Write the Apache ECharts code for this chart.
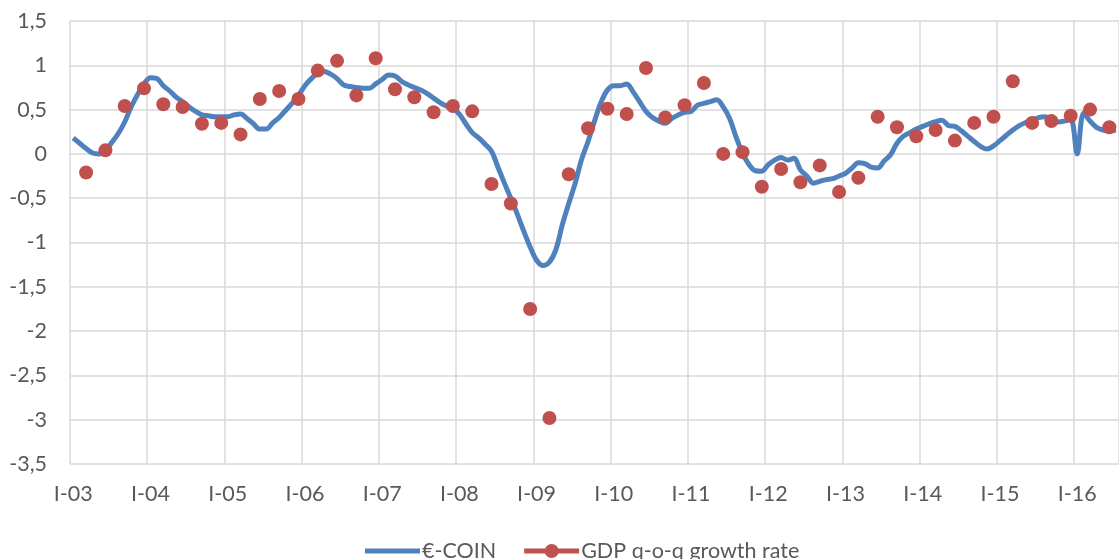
<!DOCTYPE html>
<html>
<head>
<meta charset="utf-8">
<script src="https://cdn.jsdelivr.net/npm/echarts@6/dist/echarts.min.js"></script>
<style>html,body{margin:0;padding:0;background:#fff}#c{width:1119px;height:559px}</style>
</head>
<body>
<div id="c"></div>
<script>
// Monthly categories Jan 2003 .. Jul 2016
const startYear = 2003;
const monthCount = 163;
const months = [];
for (let i = 0; i < monthCount; i++) {
  const y = startYear + Math.floor(i / 12), m = (i % 12) + 1;
  months.push(y + '-' + (m < 10 ? '0' + m : '' + m));
}

// €-COIN monthly values
const ecoin = [
  0.18, 0.12, 0.06, 0.01, 0.00, 0.04, 0.13, 0.23, 0.36, 0.53, 0.67, 0.79,   // 2003
  0.86, 0.85, 0.77, 0.71, 0.64, 0.59, 0.53, 0.48, 0.44, 0.43, 0.42, 0.42,   // 2004
  0.42, 0.44, 0.45, 0.40, 0.34, 0.28, 0.28, 0.35, 0.41, 0.49, 0.57, 0.66,   // 2005
  0.77, 0.85, 0.91, 0.93, 0.90, 0.85, 0.78, 0.76, 0.75, 0.74, 0.74, 0.79,   // 2006
  0.84, 0.89, 0.88, 0.82, 0.78, 0.75, 0.72, 0.68, 0.63, 0.58, 0.54, 0.51,   // 2007
  0.45, 0.34, 0.24, 0.18, 0.11, 0.03, -0.15, -0.33, -0.50, -0.68, -0.87, -1.05, // 2008
  -1.20, -1.26, -1.22, -1.08, -0.80, -0.56, -0.33, -0.06, 0.14, 0.37, 0.58, 0.72, // 2009
  0.77, 0.77, 0.79, 0.70, 0.59, 0.48, 0.41, 0.37, 0.345, 0.40, 0.44, 0.47,  // 2010
  0.48, 0.55, 0.57, 0.59, 0.61, 0.53, 0.40, 0.19, 0.01, -0.12, -0.19, -0.195, // 2011
  -0.12, -0.07, -0.04, -0.07, -0.05, -0.18, -0.25, -0.33, -0.31, -0.29, -0.28, -0.25, // 2012
  -0.22, -0.16, -0.10, -0.11, -0.15, -0.16, -0.08, -0.01, 0.12, 0.20, 0.24, 0.28, // 2013
  0.31, 0.34, 0.365, 0.38, 0.32, 0.31, 0.26, 0.20, 0.14, 0.085, 0.055, 0.09, // 2014
  0.15, 0.21, 0.27, 0.32, 0.355, 0.38, 0.41, 0.42, 0.39, 0.36, 0.37, 0.39,  // 2015
  0.00, 0.46, 0.37, 0.30, 0.27, 0.26, 0.27                                  // 2016
];

// GDP q-o-q growth rate, quarterly Q1-2003 .. Q2-2016 (plotted at last month of quarter)
const gdp = [
  -0.21, 0.04, 0.54, 0.74,
  0.56, 0.53, 0.34, 0.35,
  0.22, 0.62, 0.71, 0.62,
  0.94, 1.05, 0.66, 1.08,
  0.73, 0.64, 0.47, 0.54,
  0.48, -0.34, -0.56, -1.75,
  -2.98, -0.23, 0.29, 0.51,
  0.45, 0.97, 0.41, 0.55,
  0.80, 0.00, 0.02, -0.37,
  -0.17, -0.32, -0.13, -0.43,
  -0.27, 0.42, 0.30, 0.20,
  0.27, 0.15, 0.35, 0.42,
  0.82, 0.35, 0.37, 0.43,
  0.50, 0.30
];

const yTicks = { min: -3.5, max: 1.5, step: 0.5 };
const seriesNames = ['€-COIN', 'GDP q-o-q growth rate'];

const gdpData = months.map(() => null);
gdp.forEach((v, q) => { gdpData[q * 3 + 2] = v; });

const font = 'Lato, "Open Sans", sans-serif';
const textColor = '#595959';
const gridColor = '#d9d9d9';

const chart = echarts.init(document.getElementById('c'), null, { renderer: 'canvas' });
chart.setOption({
  animation: false,
  backgroundColor: '#ffffff',
  textStyle: { fontFamily: font },
  grid: { left: 70, right: 0, top: 21, bottom: 95, containLabel: false },
  legend: {
    left: 360, top: 535,
    itemWidth: 55, itemHeight: 14, itemGap: 28,
    textStyle: { fontFamily: font, fontSize: 21.5, color: textColor, padding: [0, 0, 0, -3] },
    data: [
      { name: seriesNames[0], icon: 'path://M0,0 H55 V5 H0 Z' },
      { name: seriesNames[1], icon: 'path://M0,4.5 H55 V9.5 H0 Z M20.5,7 A7,7 0 1,1 34.5,7 A7,7 0 1,1 20.5,7 Z' }
    ]
  },
  xAxis: {
    type: 'category',
    data: months,
    boundaryGap: true,
    axisLine: { show: false },
    axisTick: { show: false },
    axisLabel: {
      interval: 11,
      margin: 19,
      fontFamily: font, fontSize: 21.5, color: textColor,
      formatter: v => v.slice(5) === '01' ? 'I-' + v.slice(2, 4) : ''
    },
    splitLine: { show: true, interval: 11, lineStyle: { color: gridColor, width: 1.5 } }
  },
  yAxis: {
    type: 'value',
    min: yTicks.min, max: yTicks.max, interval: yTicks.step,
    axisLine: { show: false },
    axisTick: { show: false },
    axisLabel: {
      margin: 23,
      fontFamily: font, fontSize: 21.5, color: textColor,
      formatter: v => String(Math.round(v * 10) / 10).replace('.', ',')
    },
    splitLine: { show: true, lineStyle: { color: gridColor, width: 1.5 } }
  },
  series: [
    {
      name: seriesNames[0],
      type: 'line',
      data: ecoin,
      symbol: 'none',
      smooth: 0.35,
      lineStyle: { color: '#4F81BD', width: 5 },
      itemStyle: { color: '#4F81BD' },
      z: 2
    },
    {
      name: seriesNames[1],
      type: 'line',
      data: gdpData,
      connectNulls: false,
      showAllSymbol: true,
      symbol: 'circle',
      symbolSize: 14,
      lineStyle: { color: '#C0504D', width: 5 },
      itemStyle: { color: '#C0504D' },
      z: 3
    }
  ]
});
</script>
</body>
</html>
